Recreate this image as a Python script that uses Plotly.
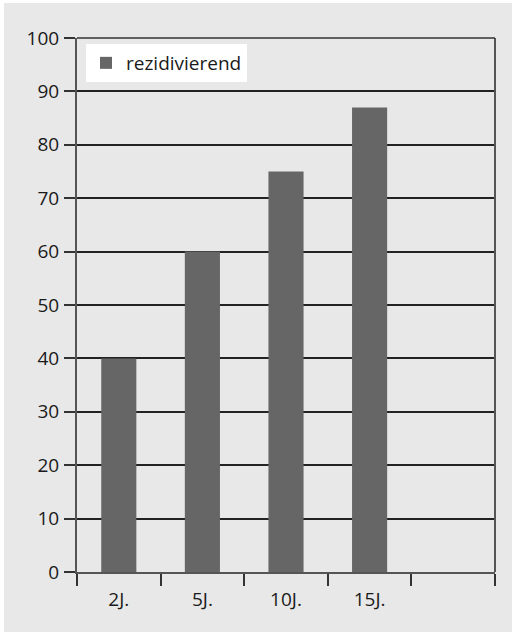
import plotly.graph_objects as go

categories = ["2J.", "5J.", "10J.", "15J.", " "]
values = [40, 60, 75, 87, None]
series_name = "rezidivierend"
y_ticks = list(range(0, 101, 10))

W, H = 512, 632
L, R, T, B = 77, 17, 38, 60
pw, ph = W - L - R, H - T - B

fig = go.Figure()
fig.add_trace(go.Bar(
    x=categories, y=values, name=series_name,
    marker=dict(color="#666666", line=dict(width=0)),
    width=0.42, showlegend=True,
))

# gray panel with thin white margin at top/left
fig.add_shape(type="rect", xref="paper", yref="paper",
              x0=(4 - L) / pw, x1=(W - L) / pw,
              y0=-(H - T - ph) / ph, y1=(T - 3) / ph + 1,
              fillcolor="#e8e8e8", line=dict(width=0), layer="below")

fig.update_layout(
    width=W, height=H,
    margin=dict(l=L, r=R, t=T, b=B, pad=0),
    paper_bgcolor="white",
    plot_bgcolor="rgba(0,0,0,0)",
    font=dict(family="Open Sans, Noto Sans, sans-serif", size=19, color="#1a1a1a"),
    bargap=0.58,
    legend=dict(x=(86 - L) / pw, y=(572 - 44) / ph, xanchor="left", yanchor="top",
                bgcolor="white", borderwidth=0, font=dict(size=19),
                itemwidth=30),
    xaxis=dict(type="category", tickson="boundaries", ticks="outside",
               ticklen=12, tickwidth=1.5, tickcolor="#333",
               showline=True, linecolor="#555", linewidth=2,
               showgrid=False, range=[-0.5, 4.5], fixedrange=True,
               tickfont=dict(size=19), ticklabelstandoff=9),
    yaxis=dict(range=[0, 100], tickvals=y_ticks, ticks="outside",
               ticklen=11, tickwidth=1.5, tickcolor="#333",
               showgrid=True, gridcolor="#222", gridwidth=1.5,
               showline=True, linecolor="#555", linewidth=2, mirror=False,
               zeroline=False, ticklabelstandoff=1, tickfont=dict(size=19)),
)
# right border line and top gridline
fig.add_shape(type="line", xref="paper", yref="paper", x0=1, x1=1, y0=0, y1=1,
              line=dict(color="#555", width=2))
fig.add_shape(type="line", xref="paper", yref="paper", x0=0, x1=1, y0=1, y1=1,
              line=dict(color="#333", width=1.5))

fig.write_html("out.html")
